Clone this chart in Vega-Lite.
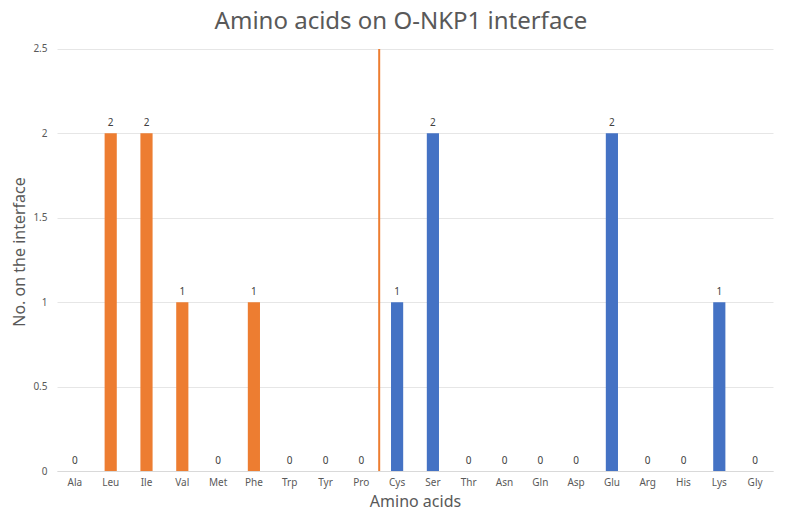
{
  "$schema": "https://vega.github.io/schema/vega-lite/v6.json",
  "width": 800,
  "height": 519,
  "autosize": {"type": "fit", "contains": "padding"},
  "padding": {"left": 11, "right": 27, "top": 10, "bottom": 10},
  "config": {
    "font": "Noto Sans",
    "view": {"stroke": null},
    "axis": {"labelColor": "#595959", "titleColor": "#595959", "labelFontSize": 10, "titleFontWeight": "normal", "titleFontSize": 16}
  },
  "title": {"text": "Amino acids on O-NKP1 interface", "fontSize": 24, "fontWeight": "normal", "color": "#595959", "offset": -2, "dx": -14},
  "data": {
    "values": [
      {"aa": "Ala", "n": 0, "group": "hydrophobic"},
      {"aa": "Leu", "n": 2, "group": "hydrophobic"},
      {"aa": "Ile", "n": 2, "group": "hydrophobic"},
      {"aa": "Val", "n": 1, "group": "hydrophobic"},
      {"aa": "Met", "n": 0, "group": "hydrophobic"},
      {"aa": "Phe", "n": 1, "group": "hydrophobic"},
      {"aa": "Trp", "n": 0, "group": "hydrophobic"},
      {"aa": "Tyr", "n": 0, "group": "hydrophobic"},
      {"aa": "Pro", "n": 0, "group": "hydrophobic"},
      {"aa": "Cys", "n": 1, "group": "polar"},
      {"aa": "Ser", "n": 2, "group": "polar"},
      {"aa": "Thr", "n": 0, "group": "polar"},
      {"aa": "Asn", "n": 0, "group": "polar"},
      {"aa": "Gln", "n": 0, "group": "polar"},
      {"aa": "Asp", "n": 0, "group": "polar"},
      {"aa": "Glu", "n": 2, "group": "polar"},
      {"aa": "Arg", "n": 0, "group": "polar"},
      {"aa": "His", "n": 0, "group": "polar"},
      {"aa": "Lys", "n": 1, "group": "polar"},
      {"aa": "Gly", "n": 0, "group": "polar"}
    ]
  },
  "encoding": {
    "x": {
      "field": "aa", "type": "nominal", "sort": null,
      "scale": {"paddingInner": 0.66, "paddingOuter": 0.33},
      "axis": {"title": "Amino acids", "labelAngle": 0, "ticks": false, "domainColor": "#d9d9d9", "labelPadding": 6, "titlePadding": 6}
    }
  },
  "layer": [
    {
      "mark": {"type": "bar"},
      "encoding": {
        "y": {
          "field": "n", "type": "quantitative",
          "scale": {"domain": [0, 2.5]},
          "axis": {"title": "No. on the interface", "values": [0, 0.5, 1, 1.5, 2, 2.5], "format": "~g", "domain": false, "ticks": false, "gridColor": "#e6e6e6", "labelPadding": 10, "titlePadding": 5}
        },
        "color": {
          "field": "group", "type": "nominal",
          "scale": {"domain": ["hydrophobic", "polar"], "range": ["#ed7d31", "#4472c4"]},
          "legend": null
        }
      }
    },
    {
      "mark": {"type": "text", "dy": -10, "fontSize": 10, "color": "#404040"},
      "encoding": {
        "y": {"field": "n", "type": "quantitative"},
        "text": {"field": "n", "type": "quantitative"}
      }
    },
    {
      "transform": [{"filter": "datum.aa === 'Pro'"}],
      "mark": {"type": "rule", "color": "#ed7d31", "strokeWidth": 2},
      "encoding": {
        "x": {"field": "aa", "type": "nominal", "sort": null, "bandPosition": 1.97},
        "y": {"datum": 0},
        "y2": {"datum": 2.5}
      }
    }
  ]
}
